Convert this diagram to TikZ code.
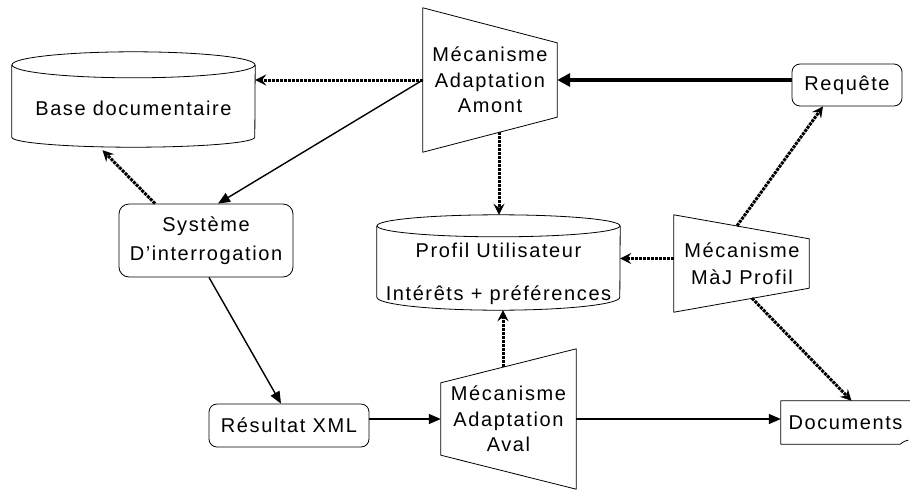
\documentclass[tikz,border=0pt]{standalone}
\usepackage{fontspec}
\setmainfont{Liberation Sans}[LetterSpace=8]
\usetikzlibrary{arrows.meta,calc}
\tikzset{
  trait/.style={line width=0.8pt},
  boite/.style={draw, trait, rounded corners=8pt, inner sep=0pt, align=center},
  meca/.style={inner sep=0pt, align=center, minimum width=134pt},
  cuve/.style={inner sep=0pt, align=center, minimum width=243pt},
  fleche/.style={line width=1.4pt, -{Triangle[length=12pt,width=10pt]}},
  grosse/.style={line width=4pt, -{Triangle[length=13pt,width=13pt]}},
  pointille/.style={line width=3pt, dash pattern=on 3pt off 1pt, -{Stealth[length=11pt,width=11pt,inset=4pt]}}
}
\begin{document}
\begin{tikzpicture}[x=1pt, y=1pt, font=\fontsize{20}{25.5}\selectfont, line join=round]
    \useasboundingbox (0,0) rectangle (910,-491);
    \node[cuve, text height=50pt, text depth=32pt] (base) at (133.5,-106) {Base documentaire};
    \draw[trait] (base.north west) -- ($(base.south west)+(0,10)$) arc[start angle=180, end angle=360, x radius=121.5, y radius=10] -- (base.north east);
    \draw[trait] (base.north) ellipse[x radius=121.5, y radius=13];
    \node[cuve, text height=74pt, text depth=10pt] (profil) at (498.5,-268) {Profil Utilisateur\\[17pt]Intérêts + préférences};
    \draw[trait] (profil.north west) -- ($(profil.south west)+(0,13)$) arc[start angle=180, end angle=360, x radius=121.5, y radius=13] -- (profil.north east);
    \draw[trait] (profil.north) ellipse[x radius=121.5, y radius=11];
    \node[meca, minimum height=144pt] (amont) at (490,-80) {Mécanisme\\Adaptation\\Amont};
    \draw[trait] (amont.north west) -- ($(amont.north east)+(0,-35)$) -- ($(amont.south east)+(0,35)$) -- (amont.south west) -- cycle;
    \node[meca, minimum width=135pt, minimum height=140pt] (aval) at (508.5,-419) {Mécanisme\\Adaptation\\Aval};
    \draw[trait] ($(aval.north west)+(0,-34)$) -- (aval.north east) -- (aval.south east) -- ($(aval.south west)+(0,34)$) -- cycle;
    \node[meca, minimum height=97pt] (majprofil) at (742,-263.5) {Mécanisme\\[1pt]MàJ Profil};
    \draw[trait] ($(majprofil.north west)+(-1,0)$) -- ($(majprofil.north east)+(0,-24)$) -- ($(majprofil.south east)+(0,24)$) -- ($(majprofil.south west)+(-1,0)$) -- cycle;
    \node[boite, rounded corners=10pt, minimum width=174pt, minimum height=73pt] (systeme) at (206,-240.5) {Système\\[3pt]D’interrogation};
    \node[boite, minimum width=110pt, minimum height=42pt] (requete) at (847,-85) {Requête};
    \node[boite, minimum width=160pt, minimum height=43pt] (resultat) at (289,-425.5) {Résultat XML};
    \node[inner sep=0pt, minimum width=129pt, minimum height=43pt] (docs) at (845.5,-422.5) {Documents};
    \draw[trait] (docs.north east) -- (docs.north west) -- (docs.south west) -- ($(docs.south east)+(-10,0)$) .. controls ($(docs.south east)+(-6,3)$) .. ($(docs.south east)+(-2,4)$);
    \draw[grosse] (requete.west |- amont) -- (amont.east);
    \draw[pointille] (amont.west) -- (amont.west -| base.east);
    \draw[fleche] (amont.west) -- ($(systeme.north)+(12,0)$);
    \draw[pointille] ($(systeme.north)+(-51,0)$) -- ($(base.south)+(-31,-3)$);
    \draw[fleche] ($(systeme.south)+(3,0)$) -- ($(resultat.north)+(-8,0)$);
    \draw[fleche] (resultat.east |- aval) -- (aval.west);
    \draw[fleche] (aval.east) -- (aval.east -| docs.west);
    \draw[pointille] ($(amont.south)+(9,20)$) -- ($(profil.north)+(0.5,11)$);
    \draw[pointille] ($(aval.north)+(-5.5,-18)$) -- ($(profil.south)+(4.5,0)$);
    \draw[pointille] ($(majprofil.west)+(-1,5)$) -- ($(majprofil.west -| profil.east)+(0,5)$);
    \draw[pointille] ($(majprofil.north)+(-5,-11)$) -- ($(requete.south)+(-24,0)$);
    \draw[pointille] ($(majprofil.south)+(10,14)$) -- ($(docs.north)+(6,0)$);
\end{tikzpicture}
\end{document}
